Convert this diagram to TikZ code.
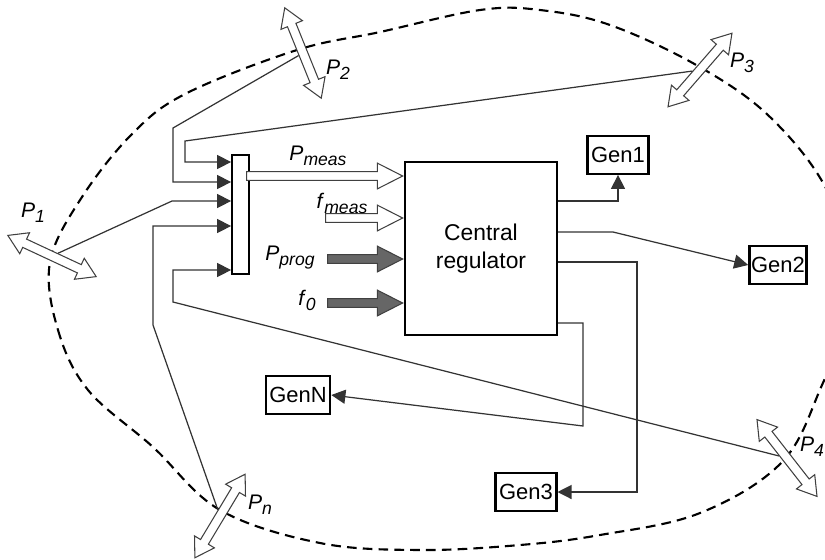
\documentclass[tikz,border=0pt]{standalone}
\usepackage{fontspec}
\setmainfont{Liberation Sans}
\usetikzlibrary{arrows.meta}
\usetikzlibrary{shapes.arrows}

\newcommand{\quant}[2]{\textit{#1}\raisebox{-0.45ex}{\fontsize{10}{10}\selectfont\textit{#2}}}

\tikzset{
  wire/.style={black!80, line width=0.7pt},
  tipped/.style={-{Triangle[length=8pt,width=8pt]}},
  genbox/.style={draw, line width=1.3pt, minimum height=0.75cm, inner xsep=2pt, font=\fontsize{12.5}{14}\selectfont},
  bidir/.style={double arrow, draw=black!75, fill=white, line width=0.6pt, minimum height=1.95cm, minimum width=12.5pt, inner sep=0pt, inner ysep=2.3pt, double arrow head extend=4pt, double arrow tip angle=64},
  hollow/.style={single arrow, draw=black!75, fill=white, line width=0.6pt, minimum width=14pt, inner sep=0pt, inner ysep=2.2pt, single arrow head extend=4.8pt, single arrow tip angle=54},
  solid arrow/.style={hollow, fill=black!60},
  plabel/.style={font=\fontsize{12}{14}\selectfont}
}

\begin{document}
\begin{tikzpicture}[x=0.02cm,y=-0.02cm]
    \useasboundingbox (0,0) rectangle (825,559);
    \clip (0,0) rectangle (825,559);
    \draw[line width=1.2pt, dash pattern=on 5.5pt off 3.5pt] plot[smooth cycle, tension=0.6] coordinates {
        (50,262) (58,330) (88,390) (153,447) (220,510) (320,543) (420,550) (520,545)
        (600,535) (700,513) (782,462) (822,385) (858,290) (828,192) (770,117) (698,66)
        (610,25) (540,10) (480,10) (380,32) (297,50) (187,93) (133,133) (82,197)};

    \node[draw, line width=1.4pt, minimum width=3.04cm, minimum height=3.46cm, align=center, font=\fontsize{13}{16}\selectfont] (reg) at (481,248.5) {Central\\regulator};
    \node[draw, line width=1pt, minimum width=0.34cm, minimum height=2.38cm, inner sep=0pt] (mux) at (240.5,214.5) {};

    \node[genbox] (gen1) at (618,155) {Gen1};
    \node[genbox, inner xsep=1pt] (gen2) at (778,265) {Gen2};
    \node[genbox] (gen3) at (526,492) {Gen3};
    \node[genbox] (genN) at (298,395) {GenN};

    \node[bidir, rotate=-25] (p1) at (52,256) {};
    \node[bidir, rotate=-68] (p2) at (303,53) {};
    \node[bidir, rotate=49] (p3) at (700,70) {};
    \node[bidir, rotate=-52] (p4) at (787,458) {};
    \node[bidir, rotate=59] (pn) at (220,516) {};

    \node[plabel] (l1) at (33,213) {\quant{P}{1}};
    \node[plabel] (l2) at (338,70) {\quant{P}{2}};
    \node[plabel] (l3) at (742,63) {\quant{P}{3}};
    \node[plabel] (l4) at (812,447) {\quant{P}{4}};
    \node[plabel] (ln) at (260,505) {\quant{P}{n}};

    \foreach \y [count=\i] in {162,182,201,226,270}
        \coordinate (in\i) at (mux.west |- 0,\y);

    \draw[wire, tipped] (p3) -- (185,141) |- (in1);
    \draw[wire, tipped] (p2) -- (173,128) |- (in2);
    \draw[wire, tipped] (p1) -- (172,201) -- (in3);
    \draw[wire, tipped] (pn) -- (153,325) |- (in4);
    \draw[wire, tipped] (p4) -- (173,302) |- (in5);

    \node[hollow, minimum height=3.12cm, anchor=tip] (smeas) at (reg.west |- 0,176) {};
    \node[hollow, minimum height=1.54cm, anchor=tip] (sfmeas) at (reg.west |- 0,218) {};
    \node[solid arrow, minimum height=1.5cm, anchor=tip] (sprog) at (reg.west |- 0,259) {};
    \node[solid arrow, minimum height=1.5cm, anchor=tip] (sf0) at (reg.west |- 0,303) {};

    \node[plabel] (lmeas) at (318,156) {\quant{P}{meas}};
    \node[plabel] (lfmeas) at (342,203) {\quant{f}{meas}};
    \node[plabel] (lprog) at (290,258) {\quant{P}{prog}};
    \node[plabel] (lf0) at (307,300) {\quant{f}{0}};

    \draw[wire, tipped] (reg.east |- 0,201) -| (gen1.south);
    \draw[wire, tipped] (reg.east |- 0,232) -- (613,232) -- (gen2.west);
    \draw[wire, tipped] (reg.east |- 0,262) -- (637,262) |- (gen3.east);
    \draw[wire, tipped] (reg.east |- 0,323) -- (583,323) -- (583,426) -- (genN.east);
\end{tikzpicture}
\end{document}
